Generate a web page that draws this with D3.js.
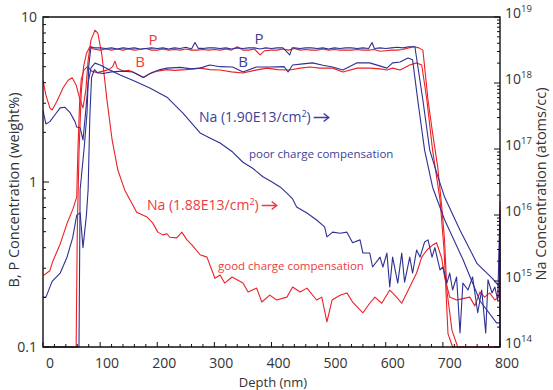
<!DOCTYPE html>
<html><head><meta charset="utf-8">
<script src="https://cdn.jsdelivr.net/npm/d3@7"></script>
<style>body{margin:0;background:#fff}svg{display:block}text{font-family:"Open Sans",sans-serif}</style>
</head><body><svg id="c" width="553" height="390"></svg>
<script>
// ---------- data ----------
const xTickValues = [0,100,200,300,400,500,600,700,800];
const leftTickValues = [0.1,1,10];
const rightTickValues = [1e14,1e15,1e16,1e17,1e18,1e19];

// B, P concentration (weight%) vs depth (nm)
const redP = [[0,0.1],[58,0.1],[60,0.5],[63,1.5],[67,3.5],[71,5.0],[76,6.0],[82,6.6],[88,6.4],[100,6.3],[110,6.4],[120,6.3],[130,6.4],[140,6.3],[150,6.4],[160,6.3],[170,6.35],[180,6.45],[190,6.3],[200,6.3],[210,6.4],[220,6.3],[230,6.35],[240,6.3],[250,6.4],[260,6.3],[270,6.3],[280,6.35],[290,6.3],[300,6.35],[310,6.3],[320,6.4],[330,6.3],[340,6.6],[350,6.3],[360,6.3],[370,6.4],[380,5.9],[388,6.25],[400,6.3],[410,6.3],[420,6.4],[430,6.3],[440,6.45],[450,6.3],[460,6.35],[470,6.3],[480,6.3],[490,6.4],[500,6.3],[510,6.35],[520,6.3],[530,6.3],[540,6.3],[550,6.35],[560,6.3],[570,6.3],[580,6.35],[590,6.2],[600,6.25],[610,6.3],[620,6.3],[630,6.35],[640,6.5],[650,6.6],[658,6.5],[665,6.3],[674,3.14],[682,1.98],[691,1.23],[698,0.71],[703,0.44],[707,0.22],[716,0.126],[726,0.1],[800,0.1]];
const blueP = [[0,0.1],[63,0.1],[65,0.9],[72,1.6],[77,2.6],[80,5.0],[84,6.6],[90,6.5],[100,6.5],[110,6.45],[120,6.5],[130,6.4],[140,6.5],[150,6.45],[160,6.5],[170,6.4],[180,6.45],[190,6.5],[200,6.45],[210,6.5],[220,6.4],[230,6.5],[240,6.45],[250,6.55],[260,6.4],[266,7.0],[272,6.45],[280,6.45],[290,6.5],[300,6.5],[310,6.45],[320,6.5],[330,6.4],[340,6.5],[350,6.45],[360,6.5],[370,6.5],[380,6.4],[390,6.5],[400,6.45],[410,6.5],[420,6.5],[432,5.9],[436,6.5],[440,6.5],[450,6.45],[460,6.5],[470,6.5],[480,6.45],[490,6.5],[500,6.4],[510,6.5],[520,6.45],[530,6.5],[540,6.5],[550,6.45],[560,6.5],[570,6.45],[576,7.0],[580,6.45],[590,6.5],[600,6.45],[610,6.5],[620,6.55],[630,6.5],[640,6.6],[651,6.6],[665,3.14],[677,1.56],[689,1.14],[703,0.81],[730,0.51],[760,0.32],[787,0.26],[800,0.23]];
const redB = [[0,0.27],[12,0.29],[17,0.33],[30,0.42],[42,0.56],[52,0.68],[59,0.81],[61,1.5],[64,3.0],[67,4.2],[72,4.8],[78,5.0],[85,4.7],[95,4.6],[105,4.7],[115,4.8],[122,5.0],[126,5.4],[130,4.9],[140,4.7],[150,4.75],[160,4.6],[170,4.4],[175,4.3],[185,4.5],[200,4.7],[217,4.8],[230,4.75],[250,4.8],[275,4.9],[292,4.8],[310,4.77],[330,4.65],[350,4.58],[370,4.75],[392,4.9],[410,4.8],[432,4.77],[450,4.9],[467,4.98],[485,4.9],[507,4.9],[525,4.64],[550,4.9],[572,4.9],[590,4.85],[602,4.77],[612,4.9],[625,4.77],[642,5.12],[654,5.27],[663,5.12],[672,3.14],[682,1.56],[695,0.78],[702,0.39],[709,0.12],[717,0.1],[800,0.1]];
const blueB = [[0,0.2],[5,0.2],[16,0.25],[30,0.28],[42,0.35],[52,0.46],[59,0.63],[65,0.65],[70,0.40],[76,0.63],[79,0.9],[82,2.5],[85,4.3],[90,4.8],[95,4.6],[105,4.55],[120,4.65],[140,4.7],[157,4.64],[170,4.4],[176,4.3],[190,4.6],[205,4.8],[217,4.9],[240,4.95],[260,4.85],[275,4.9],[292,5.12],[310,5.0],[332,4.98],[350,4.64],[374,4.98],[397,4.98],[422,5.0],[429,4.64],[437,5.12],[455,5.2],[472,5.27],[490,5.1],[507,4.98],[525,4.77],[549,5.27],[572,5.27],[602,4.9],[612,5.27],[625,5.34],[639,5.64],[647,5.5],[656,3.14],[668,1.56],[682,0.93],[703,0.59],[735,0.34],[765,0.19],[794,0.14],[800,0.14]];

// Na concentration (atoms/cc) vs depth (nm)
const redNa = [[0,1.1e18],[5,6.6e17],[12,4.2e17],[16,3.9e17],[24,5.2e17],[35,8.4e17],[44,1.1e18],[51,1.2e18],[58,9.3e17],[65,5.5e17],[70,4.2e17],[75,7.8e17],[79,2.2e18],[84,4.5e18],[91,6.3e18],[96,5.7e18],[103,2.7e18],[112,5.5e17],[121,1.37e17],[131,4.8e16],[143,2.4e16],[164,1.1e16],[182,9.3e15],[192,7.6e15],[201,5.5e15],[210,5.0e15],[217,5.2e15],[222,4.6e15],[234,4.5e15],[243,5.5e15],[252,4.2e15],[261,3.5e15],[275,2.5e15],[287,2.3e15],[301,1.1e15],[310,1.23e15],[318,9.3e14],[331,1.15e15],[350,9.3e14],[359,6.8e14],[374,7.8e14],[383,4.8e14],[397,6.1e14],[409,5.15e14],[427,5.7e14],[437,8.1e14],[450,6.8e14],[462,7.8e14],[479,5.15e14],[488,5.7e14],[497,2.4e14],[506,5.15e14],[520,6.1e14],[532,6.6e14],[542,4.8e14],[560,3.3e14],[572,4.6e14],[581,5.7e14],[593,4.6e14],[607,7.3e14],[619,5.7e14],[628,4.6e14],[642,8.1e14],[654,1.32e15],[663,2.3e15],[672,2.95e15],[682,3.5e15],[689,3.8e15],[698,2.2e15],[703,1.15e15],[712,5.7e14],[724,5.15e14],[735,5.4e14],[747,5.7e14],[756,4.2e14],[765,6.8e14],[773,5.7e14],[782,6.6e14],[791,5.15e14],[798,5.7e14],[800,1.6e16],[800,1e14]];
const blueNa = [[0,3.9e17],[5,2.4e17],[12,2.6e17],[21,3.3e17],[30,4.2e17],[38,4.3e17],[47,3.6e17],[56,2.6e17],[59,2.15e17],[65,2.1e17],[70,1.37e17],[75,3.9e17],[79,1.0e18],[84,1.7e18],[91,2.0e18],[100,1.87e18],[117,1.57e18],[135,1.32e18],[157,1.1e18],[187,8.4e17],[217,6.1e17],[245,3.5e17],[275,1.75e17],[292,1.47e17],[310,1.23e17],[332,9.0e16],[350,6.3e16],[367,5.1e16],[385,3.8e16],[401,3.16e16],[415,2.66e16],[427,2.15e16],[437,1.75e16],[444,1.32e16],[462,1.07e16],[479,8.4e15],[493,6.6e15],[497,4.65e15],[507,5.5e15],[520,5.3e15],[532,5.5e15],[542,3.8e15],[555,4.2e15],[560,2.65e15],[572,2.65e15],[577,1.63e15],[590,2.3e15],[595,1.63e15],[602,2.65e15],[607,8.1e14],[612,2.3e15],[621,9.3e14],[628,2.65e15],[633,9.6e14],[642,2.3e15],[647,1.32e15],[654,2.95e15],[660,2.3e15],[668,3.9e15],[674,4.2e15],[681,2.3e15],[686,3.2e15],[695,1.47e15],[700,1.63e15],[707,9.3e14],[712,1.32e15],[717,7.3e14],[724,1.15e15],[730,1.63e14],[735,9.3e14],[744,7.3e14],[752,1.15e15],[761,3.3e14],[768,7.3e14],[775,1.63e14],[779,1.04e15],[786,6.6e14],[791,8.1e14],[796,5.15e14],[800,1.2e16],[800,1e14]];

// ---------- drawing ----------
const RED = "#ec2027", BLUE = "#2e3192", RED_T = "#ee3a40", BLUE_T = "#3b3f99";
const L = 43, R = 500, T = 17, B = 347;
const svg = d3.select("#c");
const x = d3.scaleLinear().domain([0,800]).range([L,R]);
const yL = d3.scaleLog().domain([0.1,10]).range([B,T]);
const yR = d3.scaleLog().domain([1e14,1e19]).range([B,T]);

svg.append("clipPath").attr("id","clip").append("rect").attr("x",L).attr("y",T-1).attr("width",R-L+2).attr("height",B-T+2);
const plot = svg.append("g").attr("clip-path","url(#clip)");
const lineL = d3.line().x(d=>x(d[0])).y(d=>yL(d[1]));
const lineR = d3.line().x(d=>x(d[0])).y(d=>yR(d[1]));
const series = [
  [redNa, lineR, RED], [redB, lineL, RED], [redP, lineL, RED],
  [blueNa, lineR, BLUE], [blueB, lineL, BLUE], [blueP, lineL, BLUE]
];
series.forEach(([d, ln, c]) => plot.append("path").attr("d", ln(d)).attr("fill","none").attr("stroke",c).attr("stroke-width",1.1).attr("stroke-linejoin","round"));

// axes frame
svg.append("path").attr("d",`M${L},${T}H${R}V${B}H${L}Z`).attr("fill","none").attr("stroke","#111").attr("stroke-width",1.4);
const tk = svg.append("g").attr("stroke","#111").attr("stroke-width",1);
d3.range(0,801,20).forEach(v=>{
  const major = v%100===0;
  tk.append("line").attr("x1",x(v)).attr("x2",x(v)).attr("y1",B).attr("y2",B-(major?5:3));
});
yL.ticks().forEach(v=>{
  const major = leftTickValues.some(m=>Math.abs(m-v)<1e-9);
  tk.append("line").attr("x1",L).attr("x2",L+(major?6:3)).attr("y1",yL(v)).attr("y2",yL(v));
});
yR.ticks().forEach(v=>{
  const major = rightTickValues.some(m=>Math.abs(m/v-1)<1e-6);
  tk.append("line").attr("x1",R).attr("x2",R-(major?6:3)).attr("y1",yR(v)).attr("y2",yR(v));
});

const lab = svg.append("g").attr("fill","#333").style("font-size","14px");
xTickValues.forEach(v=>lab.append("text").attr("x",x(v)+7).attr("y",368).attr("text-anchor","middle").text(v));
leftTickValues.forEach(v=>lab.append("text").attr("x",37).attr("y",yL(v)+5).attr("text-anchor","end").text(v));
rightTickValues.forEach(v=>{
  const t = lab.append("text").attr("x",505).attr("y",yR(v)+1);
  t.append("tspan").text("10");
  t.append("tspan").attr("dy",-6).style("font-size","9.5px").text(Math.round(Math.log10(v)));
});

// axis titles
const tt = svg.append("g").attr("fill","#333").style("font-size","13px");
tt.append("text").attr("x",273).attr("y",387).attr("text-anchor","middle").text("Depth (nm)");
tt.append("text").attr("transform","translate(19,190) rotate(-90)").attr("text-anchor","middle").style("font-size","14.5px").text("B, P Concentration (weight%)");
tt.append("text").attr("transform","translate(546,184) rotate(-90)").attr("text-anchor","middle").style("font-size","14.5px").text("Na Concentration (atoms/cc)");

// annotations
const ann = svg.append("g").style("font-size","15px");
ann.append("text").attr("x",153).attr("y",45).attr("text-anchor","middle").attr("fill",RED_T).text("P");
ann.append("text").attr("x",140).attr("y",67).attr("text-anchor","middle").attr("fill",RED_T).text("B");
ann.append("text").attr("x",259).attr("y",44).attr("text-anchor","middle").attr("fill",BLUE_T).text("P");
ann.append("text").attr("x",243).attr("y",67).attr("text-anchor","middle").attr("fill",BLUE_T).text("B");

function naLabel(xp, yp, dose, col){
  const t = svg.append("text").attr("x",xp).attr("y",yp).attr("fill",col).style("font-size","14px");
  t.append("tspan").text(`Na (${dose}/cm`);
  t.append("tspan").attr("dy",-5).style("font-size","9px").text("2");
  t.append("tspan").attr("dy",5).text(")");
  const w = t.node().getComputedTextLength();
  const ax0 = xp + w + 3, ax1 = ax0 + 15, ay = yp - 4.5;
  svg.append("path").attr("d",`M${ax0},${ay}H${ax1}`).attr("stroke",col).attr("stroke-width",1.5);
  svg.append("path").attr("d",`M${ax1-5},${ay-4}L${ax1},${ay}L${ax1-5},${ay+4}`).attr("fill","none").attr("stroke",col).attr("stroke-width",1.5);
}
naLabel(199,122,"1.90E13",BLUE_T);
naLabel(147,210,"1.88E13",RED_T);
svg.append("text").attr("x",249).attr("y",158).attr("fill",BLUE_T).style("font-size","11.5px").text("poor charge compensation");
svg.append("text").attr("x",218).attr("y",270).attr("fill",RED_T).style("font-size","11.5px").text("good charge compensation");
</script></body></html>
